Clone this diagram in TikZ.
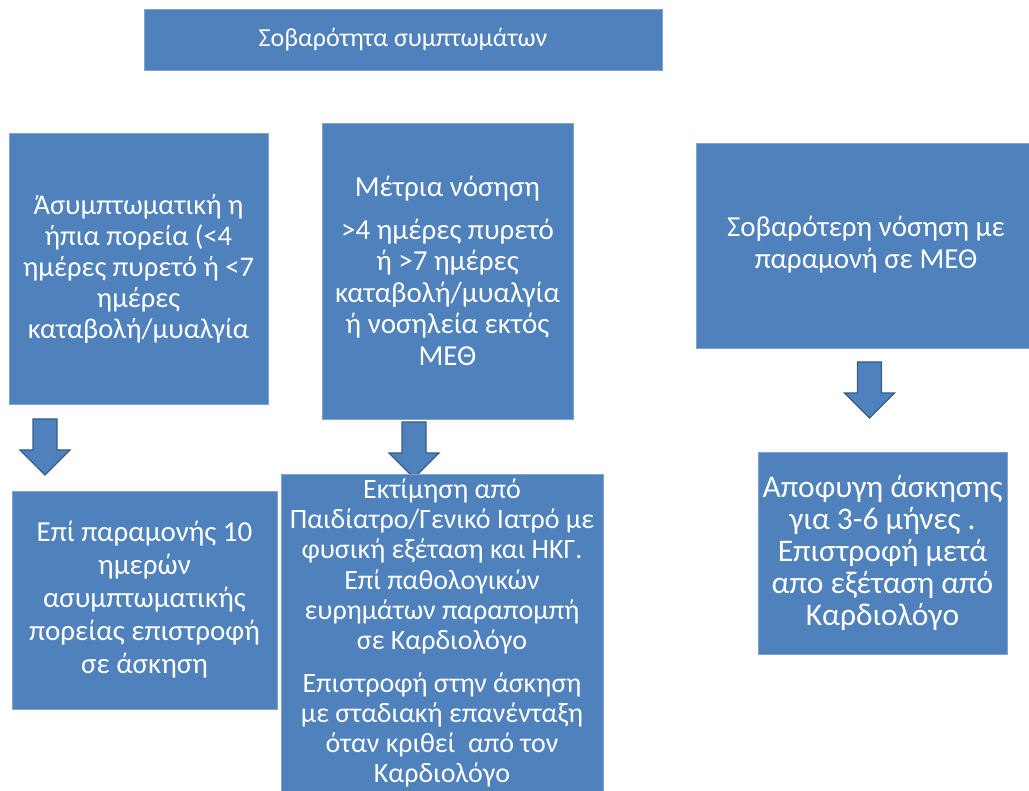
\documentclass[tikz,border=0pt]{standalone}
\usepackage{fontspec}
\setmainfont{Carlito}
\usetikzlibrary{positioning}
\definecolor{boxblue}{HTML}{4F81BD}
\definecolor{boxedge}{HTML}{7FA3D3}
\definecolor{arrowedge}{HTML}{385D8A}
\tikzset{
  bluebox/.style={fill=boxblue, draw=boxedge, line width=0.8pt, text=white, align=center, inner sep=0pt,
    font=\fontsize{29}{31.5}\selectfont},
  downarrow/.style={fill=boxblue, draw=arrowedge, line width=1.2pt, line join=miter}
}
\begin{document}
\begin{tikzpicture}[x=1pt,y=-1pt]
\useasboundingbox (0,0) rectangle (1029,791);
% title
\node[bluebox, minimum width=518pt, minimum height=61pt, font=\fontsize{26}{30}\selectfont] (title) at (403,39.5) {Σοβαρότητα συμπτωμάτων};
% top row
\node[bluebox, minimum width=259pt, minimum height=271pt, font=\fontsize{28.5}{31}\selectfont] (left) at (138.5,268.5)
  {Άσυμπτωματική η\\ήπια πορεία (<4\\ημέρες πυρετό ή <7\\ημέρες\\καταβολή/μυαλγία};
\node[bluebox, minimum width=251pt, minimum height=296pt] (mid) at (447.5,271)
  {Μέτρια νόσηση\\[11pt]>4 ημέρες πυρετό\\ή >7 ημέρες\\καταβολή/μυαλγία\\ή νοσηλεία εκτός\\ΜΕΘ};
\node[bluebox, minimum width=340pt, minimum height=205pt, text depth=6pt] (right) at (866,245.5)
  {Σοβαρότερη νόσηση με\\παραμονή σε ΜΕΘ};
% arrows
\coordinate (a1) at (45,419);
\coordinate (a2) at (414,422);
\coordinate (a3) at (869.5,362);
\foreach \c/\n in {a1/arL, a2/arM, a3/arR}{
  \draw[downarrow] (\c) ++(-12,0) coordinate (\n-tl) -- ++(24,0) -- ++(0,31) -- ++(13,0) -- ++(-25,25) -- ++(-25,-25) -- ++(13,0) -- cycle;
}
% bottom row
\node[bluebox, minimum width=265pt, minimum height=218pt, font=\fontsize{29}{33}\selectfont] (bleft) at (144.5,600)
  {Επί παραμονής 10\\ημερών\\ασυμπτωματικής\\πορείας επιστροφή\\σε άσκηση};
\node[bluebox, minimum width=322pt, minimum height=318pt, font=\fontsize{28}{30.3}\selectfont] (bmid) at (442,633)
  {Εκτίμηση από\\Παιδίατρο/Γενικό Ιατρό με\\φυσική εξέταση και ΗΚΓ.\\Επί παθολογικών\\ευρημάτων παραπομπή\\σε Καρδιολόγο\\[12pt]Επιστροφή στην άσκηση\\με σταδιακή επανένταξη\\όταν κριθεί~ από τον\\Καρδιολόγο};
\node[bluebox, minimum width=249pt, minimum height=202pt, font=\fontsize{31.5}{32}\selectfont] (bright) at (882.5,553)
  {Αποφυγη άσκησης\\για 3-6 μήνες .\\Επιστροφή μετά\\απο εξέταση από\\Καρδιολόγο};
\end{tikzpicture}
\end{document}
